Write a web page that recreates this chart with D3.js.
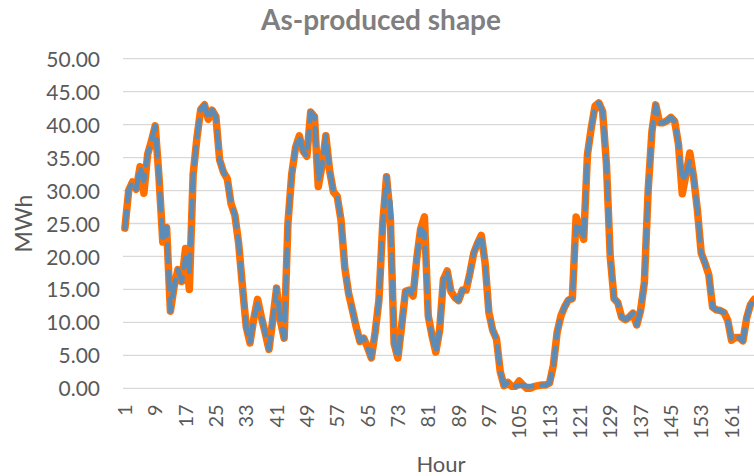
<!DOCTYPE html>
<html>
<head>
<meta charset="utf-8">
<script src="https://cdn.jsdelivr.net/npm/d3@7"></script>
<style>
	html, body { margin: 0; padding: 0; background: #fff; overflow: hidden; }
</style>
</head>
<body>
<div id="chart"></div>
<script>
// Hours 1..168 of the week
var hours = d3.range(1, 169);

// Orange series (MWh per hour)
var orangeValues = [
	24.3, 30.0, 31.3, 30.2, 33.6, 29.6, 35.5, 37.5, 39.8, 32.0,
	22.2, 24.4, 11.7, 15.5, 18.0, 16.2, 21.2, 15.0, 32.5, 38.0,
	42.3, 43.0, 40.8, 42.2, 41.2, 34.6, 32.8, 31.8, 28.0, 26.3,
	22.0, 15.5, 9.3, 6.9, 10.6, 13.5, 10.8, 8.4, 5.9, 10.4,
	15.2, 10.3, 7.6, 25.0, 32.5, 36.5, 38.3, 36.0, 35.2, 41.9,
	41.2, 30.6, 33.8, 38.3, 33.0, 29.8, 29.1, 25.5, 18.3, 14.4,
	11.9, 9.3, 7.1, 7.6, 6.2, 4.6, 8.5, 13.4, 25.0, 32.1,
	26.0, 6.8, 4.6, 9.5, 14.7, 14.9, 14.0, 19.8, 24.2, 26.0,
	11.0, 8.0, 5.5, 8.8, 16.5, 17.8, 14.7, 13.8, 13.3, 14.9,
	14.9, 17.5, 20.5, 22.0, 23.2, 19.0, 11.5, 8.8, 7.5, 2.5,
	0.4, 0.9, 0.3, 0.3, 1.1, 0.5, 0.0, 0.0, 0.3, 0.4,
	0.5, 0.5, 0.8, 3.5, 8.5, 11.0, 12.4, 13.4, 13.6, 26.0,
	24.3, 22.6, 35.5, 39.5, 42.8, 43.3, 42.0, 34.0, 20.0, 13.6,
	13.0, 10.8, 10.4, 10.8, 11.4, 9.6, 11.8, 16.0, 30.0, 39.0,
	43.0, 40.3, 40.3, 40.6, 41.1, 40.5, 37.0, 29.5, 32.5, 35.7,
	32.0, 27.0, 20.5, 19.0, 17.2, 12.3, 11.9, 11.8, 11.5, 10.3,
	7.3, 7.7, 7.7, 7.2, 10.7, 12.7, 13.5, 13.0
];

// Blue dashed series (MWh per hour)
var blueValues = [
	24.3, 30.0, 31.3, 30.2, 33.6, 31.5, 35.5, 37.5, 39.8, 32.0,
	22.2, 24.4, 11.7, 15.5, 18.0, 16.2, 19.8, 17.5, 32.5, 38.0,
	42.3, 43.0, 40.8, 42.2, 41.2, 34.6, 32.8, 31.8, 28.0, 26.3,
	22.0, 15.5, 9.3, 6.9, 10.6, 12.8, 10.8, 8.4, 5.9, 10.4,
	15.2, 10.3, 7.6, 25.0, 32.5, 36.5, 38.3, 36.0, 35.2, 41.9,
	41.2, 31.5, 33.8, 38.3, 33.0, 29.8, 29.1, 25.5, 18.3, 14.4,
	11.9, 9.3, 7.1, 7.6, 6.2, 4.6, 8.5, 13.4, 25.0, 32.1,
	28.0, 6.8, 4.6, 9.5, 14.7, 14.9, 14.0, 19.8, 24.2, 23.5,
	11.0, 8.0, 5.5, 8.8, 16.5, 17.8, 14.7, 13.8, 13.3, 14.9,
	14.9, 17.5, 20.5, 22.0, 23.2, 19.0, 11.5, 8.8, 7.5, 2.5,
	0.4, 0.9, 0.3, 0.3, 0.4, 0.5, 0.3, 0.3, 0.3, 0.4,
	0.5, 0.5, 0.8, 3.5, 8.5, 11.0, 12.4, 13.4, 13.6, 24.5,
	24.3, 22.6, 35.5, 39.5, 42.8, 43.3, 42.0, 34.0, 20.0, 13.6,
	13.0, 10.8, 10.4, 10.8, 11.4, 9.6, 11.8, 16.0, 30.0, 39.0,
	43.0, 40.3, 40.3, 40.6, 41.1, 40.5, 37.0, 31.5, 32.5, 34.5,
	32.0, 27.0, 20.5, 19.0, 17.2, 12.3, 11.9, 11.8, 11.5, 10.3,
	7.3, 7.7, 7.7, 7.2, 10.7, 12.7, 13.5, 13.0
];

// Axis ticks
var yTicks = [0, 5, 10, 15, 20, 25, 30, 35, 40, 45, 50];
var xTickLabels = hours.filter(function(h) { return (h - 1) % 8 === 0; });

var chartTitle = 'As-produced shape';
var xTitle = 'Hour';
var yTitle = 'MWh';

function Chart() {
	var attrs = {
		svgWidth: 754,
		svgHeight: 476,
		plotLeft: 123,
		plotRight: 760,
		plotTop: 58.7,
		plotBottom: 388.3,
		container: 'body',
		gridColor: '#D9D9D9',
		labelColor: '#595959',
		titleColor: '#7F7F7F',
		defaultFont: 'Lato, "Open Sans", sans-serif',
		orange: '#FF6F00',
		blue: '#5B8CB8'
	};

	var main = function() {
		var container = d3.select(attrs.container);

		var svg = container
			.patternify({ tag: 'svg', selector: 'svg-chart-container' })
			.attr('width', attrs.svgWidth)
			.attr('height', attrs.svgHeight)
			.attr('font-family', attrs.defaultFont);

		// Scales
		var x = d3.scaleBand().domain(hours).range([ attrs.plotLeft, attrs.plotRight ]).padding(0);
		var y = d3.scaleLinear().domain([ 0, 50 ]).range([ attrs.plotBottom, attrs.plotTop ]);
		var xPos = function(h) { return x(h) + x.bandwidth() / 2; };

		// Gridlines
		svg
			.patternify({ tag: 'line', selector: 'grid', data: yTicks })
			.attr('x1', attrs.plotLeft)
			.attr('x2', attrs.plotRight)
			.attr('y1', (d) => y(d))
			.attr('y2', (d) => y(d))
			.attr('stroke', attrs.gridColor)
			.attr('stroke-width', 1.3);

		// Y axis labels
		var yAxis = d3.axisLeft(y).tickValues(yTicks).tickSize(0).tickPadding(0).tickFormat(d3.format('.2f'));
		var yAxisG = svg
			.patternify({ tag: 'g', selector: 'y-axis' })
			.attr('transform', 'translate(100,0)')
			.call(yAxis);
		yAxisG.select('.domain').remove();
		yAxisG.selectAll('text')
			.attr('fill', attrs.labelColor)
			.attr('font-size', 21)
			.attr('font-family', attrs.defaultFont)
			.attr('dy', '0.36em');

		// X axis labels (rotated)
		var xAxis = d3.axisBottom(x).tickValues(xTickLabels).tickSize(0).tickPadding(0);
		var xAxisG = svg
			.patternify({ tag: 'g', selector: 'x-axis' })
			.attr('transform', 'translate(0,' + attrs.plotBottom + ')')
			.call(xAxis);
		xAxisG.select('.domain').remove();
		xAxisG.selectAll('text')
			.attr('fill', attrs.labelColor)
			.attr('font-size', 20)
			.attr('font-family', attrs.defaultFont)
			.attr('text-anchor', 'end')
			.attr('transform', 'translate(0,16) rotate(-90)')
			.attr('x', 0)
			.attr('y', 0)
			.attr('dy', '0.36em');

		// Lines
		var line = d3.line()
			.x((d, i) => xPos(hours[i]))
			.y((d) => y(d));

		svg
			.patternify({ tag: 'path', selector: 'orange-line', data: [ orangeValues ] })
			.attr('d', line)
			.attr('fill', 'none')
			.attr('stroke', attrs.orange)
			.attr('stroke-width', 7.5)
			.attr('stroke-linejoin', 'round')
			.attr('stroke-linecap', 'round');

		svg
			.patternify({ tag: 'path', selector: 'blue-line', data: [ blueValues ] })
			.attr('d', line)
			.attr('fill', 'none')
			.attr('stroke', attrs.blue)
			.attr('stroke-width', 5)
			.attr('stroke-dasharray', '17 10')
			.attr('stroke-linejoin', 'round')
			.attr('stroke-linecap', 'round');

		// Titles
		svg
			.patternify({ tag: 'text', selector: 'chart-title', data: [ chartTitle ] })
			.text((d) => d)
			.attr('x', 381)
			.attr('y', 30)
			.attr('text-anchor', 'middle')
			.attr('font-size', 28)
			.attr('font-weight', 'bold')
			.attr('fill', attrs.titleColor);

		svg
			.patternify({ tag: 'text', selector: 'x-title', data: [ xTitle ] })
			.text((d) => d)
			.attr('x', 441)
			.attr('y', 472)
			.attr('text-anchor', 'middle')
			.attr('font-size', 22)
			.attr('fill', attrs.labelColor);

		svg
			.patternify({ tag: 'text', selector: 'y-title', data: [ yTitle ] })
			.text((d) => d)
			.attr('transform', 'translate(32,' + ((attrs.plotTop + attrs.plotBottom) / 2) + ') rotate(-90)')
			.attr('text-anchor', 'middle')
			.attr('font-size', 23)
			.attr('fill', attrs.labelColor);
	};

	d3.selection.prototype.patternify = function(params) {
		var container = this;
		var selector = params.selector;
		var elementTag = params.tag;
		var data = params.data || [ selector ];

		var selection = container.selectAll('.' + selector).data(data, (d, i) => i);
		selection.exit().remove();
		selection = selection.enter().append(elementTag).merge(selection);
		selection.attr('class', selector);
		return selection;
	};

	main.container = function(_) {
		if (!arguments.length) return attrs.container;
		attrs.container = _;
		return main;
	};

	main.render = function() {
		main();
		return main;
	};

	return main;
}

Chart().container('#chart').render();
</script>
</body>
</html>
